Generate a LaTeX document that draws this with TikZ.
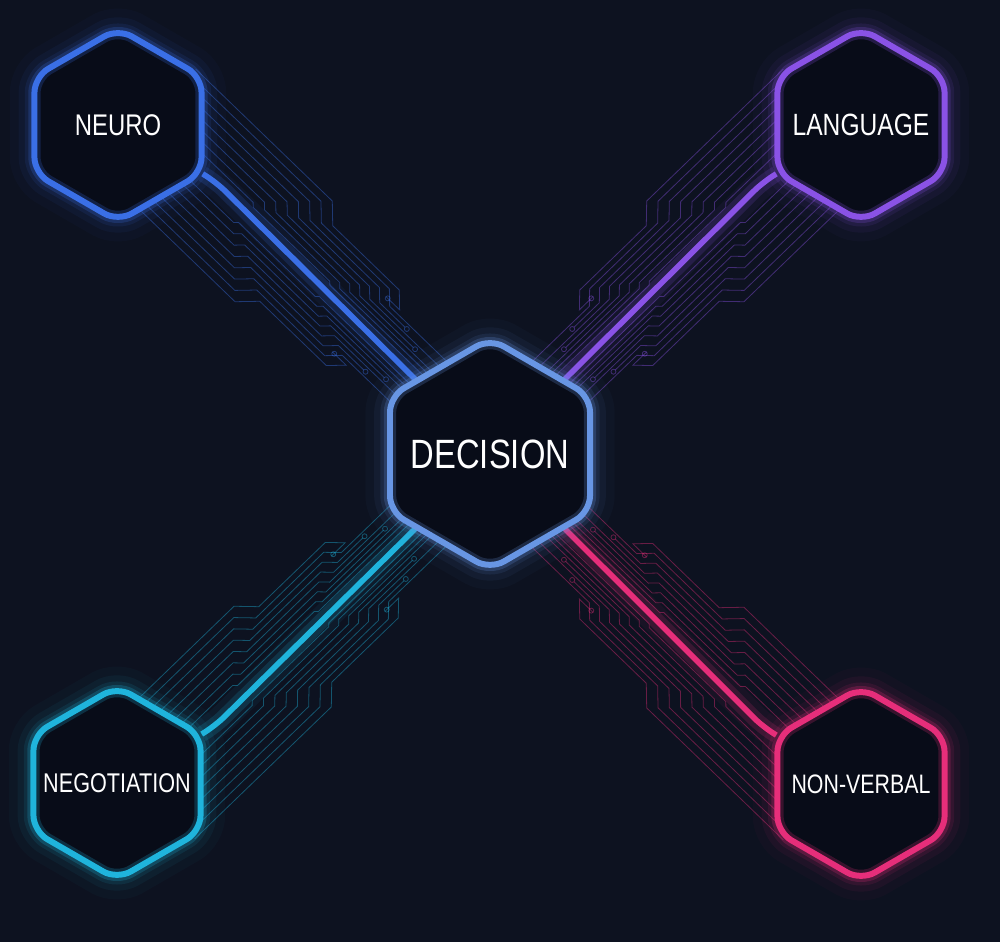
\documentclass[tikz,border=0pt]{standalone}
\usepackage{fontspec}
\setmainfont{Liberation Sans}[FakeStretch=0.8]
\usetikzlibrary{shapes.geometric}

\definecolor{bgnavy}{HTML}{0D1220}
\definecolor{hexfill}{HTML}{080C18}
\definecolor{neuroblue}{HTML}{3A6FE6}
\definecolor{langpurple}{HTML}{8A52E6}
\definecolor{negocyan}{HTML}{1FB4DC}
\definecolor{nonverbpink}{HTML}{E62E7A}
\definecolor{decisionblue}{HTML}{6896E4}

\pgfdeclarelayer{back}
\pgfdeclarelayer{wires}
\pgfsetlayers{back,wires,main}

\tikzset{
	hexbox/.style={regular polygon, regular polygon sides=6, shape border rotate=90,
		minimum size=3.86cm, inner sep=0pt, rounded corners=9pt, line width=3.4pt,
		draw=#1, fill=hexfill, label distance=0pt,
		preaction={draw=#1, line width=28pt, draw opacity=0.03},
		preaction={draw=#1, line width=18pt, draw opacity=0.06},
		preaction={draw=#1, line width=11pt, draw opacity=0.1},
		postaction={draw=#1, line width=7pt, draw opacity=0.22}},
	hextext/.style={text=white, inner sep=0pt},
	link/.style={draw=#1, line width=3.2pt, line cap=round, rounded corners=8pt,
		preaction={draw=#1, line width=16pt, draw opacity=0.06},
		preaction={draw=#1, line width=9pt, draw opacity=0.16}},
	trace/.style={draw=#1, line width=0.45pt, draw opacity=0.42},
}

\begin{document}
\begin{tikzpicture}[x=0.02cm, y=0.02cm]
		
		%Background
		\begin{pgfonlayer}{back}
		\fill[bgnavy] (0,0) rectangle (1000,942);
		\end{pgfonlayer}
		\useasboundingbox (0,0) rectangle (1000,942);
		
		%Centre hexagon
		\node (decision) at (490,488) [hexbox=decisionblue, minimum size=4.62cm, 
		label={[hextext, font=\fontsize{23.3}{24}\selectfont]center:DECISION}]{};
		
		%Outer hexagons
		\node (neuro) at (118,817) [hexbox=neuroblue, 
		label={[hextext, font=\fontsize{17}{18}\selectfont]center:NEURO}]{};
		\node (language) at (861,817) [hexbox=langpurple, 
		label={[hextext, font=\fontsize{17.5}{18}\selectfont]center:LANGUAGE}]{};
		\node (negotiation) at (117,159) [hexbox=negocyan, 
		label={[hextext, font=\fontsize{15.4}{16}\selectfont]center:NEGOTIATION}]{};
		\node (nonverbal) at (861,158) [hexbox=nonverbpink, 
		label={[hextext, font=\fontsize{15.2}{16}\selectfont]center:NON-VERBAL}]{};
		
		%Connectors with circuit traces
		\begin{pgfonlayer}{wires}
		\foreach \hex/\vert/\ang/\tip/\col in {neuro/-30/-44/135/neuroblue, language/-150/-136/45/langpurple,
			negotiation/30/44/-135/negocyan, nonverbal/150/136/-45/nonverbpink}{
			\begin{scope}[shift={(\hex.\vert)}, rotate=\ang]
			\foreach \s in {1,-1}
			\foreach \yo/\xe/\c in {14/340/0, 22/300/1, 30/340/0, 38/270/1, 46/330/0, 54/250/1, 62/320/0, 70/215/1}{
				\pgfmathsetmacro\ya{0.75*\yo}
				\pgfmathsetmacro\yb{0.55*\yo}
				\pgfmathsetmacro\xa{40+\yo}
				\pgfmathsetmacro\xb{150+\yo}
				\draw[trace=\col] (-80,\s*\yo) -- (\xa,\s*\yo) -- ({\xa+\yo-\ya},\s*\ya) -- (\xb,\s*\ya) 
				-- ({\xb+\ya-\yb},\s*\yb) -- (\xe,\s*\yb);
				\ifnum\c=1 \draw[trace=\col] (\xe+2.5,\s*\yb) circle (2.5); \fi
			}
			\end{scope}
			\draw[link=\col] (\hex.\vert) -- ++(\vert:12) -- (decision.\tip);
		}
		\end{pgfonlayer}
		
\end{tikzpicture}
\end{document}
